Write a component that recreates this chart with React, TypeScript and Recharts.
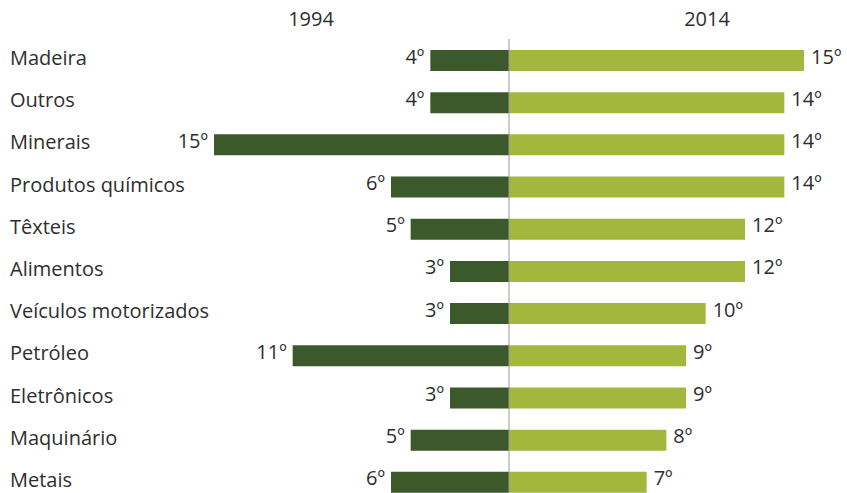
import React from 'react';
import { BarChart, Bar, XAxis, YAxis, ReferenceLine, LabelList } from 'recharts';

const categories = ['Madeira', 'Outros', 'Minerais', 'Produtos químicos', 'Têxteis', 'Alimentos', 'Veículos motorizados', 'Petróleo', 'Eletrônicos', 'Maquinário', 'Metais'];
const rank1994 = [4, 4, 15, 6, 5, 3, 3, 11, 3, 5, 6];
const rank2014 = [15, 14, 14, 14, 12, 12, 10, 9, 9, 8, 7];
const seriesNames = ['1994', '2014'];

const data = categories.map((name, i) => ({
  name,
  y1994: -rank1994[i],
  y2014: rank2014[i],
}));

const FONT = '"Open Sans", "Noto Sans", sans-serif';
const TEXT = '#2e2e2e';
const DARK = '#3c592b';
const LIGHT = '#a3b73c';
const FS = 20;

const CategoryTick = (props: any) => {
  const { y, payload } = props;
  return (
    <text x={10} y={y - 2} dy="0.35em" textAnchor="start" fill={TEXT} fontSize={FS} fontFamily={FONT}>
      {payload.value}
    </text>
  );
};

const LeftLabel = (props: any) => {
  const { x, y, width, height, value } = props;
  const left = Math.min(x, x + width);
  return (
    <text x={left - 6} y={y + height / 2 - 4} dy="0.35em" textAnchor="end" fill={TEXT} fontSize={FS} fontFamily={FONT}>
      {Math.abs(value)}º
    </text>
  );
};

const RightLabel = (props: any) => {
  const { x, y, width, height, value } = props;
  const right = Math.max(x, x + width);
  return (
    <text x={right + 7} y={y + height / 2 - 4} dy="0.35em" textAnchor="start" fill={TEXT} fontSize={FS} fontFamily={FONT}>
      {Math.abs(value)}º
    </text>
  );
};

export default function App() {
  return (
    <div style={{ position: 'absolute', top: 0, left: 0, width: 847, height: 493, overflow: 'hidden', background: '#fff' }}>
      <div style={{ position: 'absolute', left: 261, width: 100, top: 6, textAlign: 'center', fontFamily: FONT, fontSize: FS, color: TEXT, lineHeight: '26px' }}>{seriesNames[0]}</div>
      <div style={{ position: 'absolute', left: 657, width: 100, top: 6, textAlign: 'center', fontFamily: FONT, fontSize: FS, color: TEXT, lineHeight: '26px' }}>{seriesNames[1]}</div>
      <BarChart
        width={847}
        height={493}
        data={data}
        layout="vertical"
        stackOffset="sign"
        margin={{ top: 39, right: 43, bottom: -10, left: 0 }}
      >
        <XAxis type="number" domain={[-15, 15]} hide />
        <YAxis type="category" dataKey="name" width={214} axisLine={false} tickLine={false} tick={<CategoryTick />} interval={0} />
        <Bar dataKey="y1994" stackId="a" fill={DARK} barSize={21} isAnimationActive={false}>
          <LabelList dataKey="y1994" content={<LeftLabel />} />
        </Bar>
        <Bar dataKey="y2014" stackId="a" fill={LIGHT} barSize={21} isAnimationActive={false}>
          <LabelList dataKey="y2014" content={<RightLabel />} />
        </Bar>
        <ReferenceLine x={0} stroke="#9a9a9a" strokeWidth={1} />
      </BarChart>
    </div>
  );
}
